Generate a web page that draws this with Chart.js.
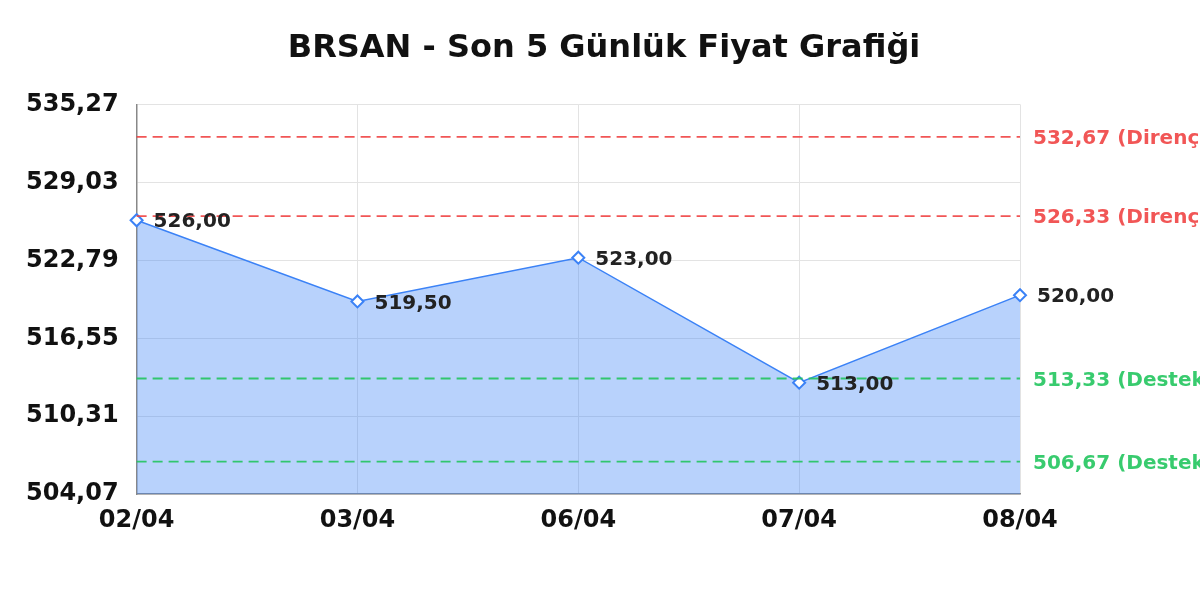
<!DOCTYPE html>
<html>
<head>
<meta charset="utf-8">
<script src="https://cdn.jsdelivr.net/npm/chart.js@4"></script>
<style>
  html, body { margin: 0; padding: 0; background: #fff; }
  #wrap { width: 1200px; height: 600px; }
</style>
</head>
<body>
<div id="wrap"><canvas id="chart"></canvas></div>
<script>
  const labels = ['02/04', '03/04', '06/04', '07/04', '08/04'];
  const prices = [526.00, 519.50, 523.00, 513.00, 520.00];
  const yTicks = [504.07, 510.31, 516.55, 522.79, 529.03, 535.27];
  const resistance = [532.67, 526.33];
  const support = [513.33, 506.67];

  const fmt = v => v.toFixed(2).replace('.', ',');
  const FONT = "'DejaVu Sans', sans-serif";

  // dashed support / resistance lines with labels right of the plot
  const levelLinesPlugin = {
    id: 'levelLines',
    afterDatasetsDraw(chart) {
      const { ctx, chartArea, scales } = chart;
      const levels = resistance.map(v => ({ v, color: 'rgba(239, 68, 68, 0.9)', text: ' (Direnç)' }))
        .concat(support.map(v => ({ v, color: 'rgba(34, 197, 94, 0.9)', text: ' (Destek)' })));
      ctx.save();
      levels.forEach(l => {
        const y = scales.y.getPixelForValue(l.v);
        ctx.strokeStyle = l.color;
        ctx.lineWidth = 1.8;
        ctx.setLineDash([10, 6]);
        ctx.beginPath();
        ctx.moveTo(chartArea.left, y);
        ctx.lineTo(chartArea.right, y);
        ctx.stroke();
        ctx.setLineDash([]);
        ctx.fillStyle = l.color;
        ctx.font = 'bold 20px ' + FONT;
        ctx.textAlign = 'left';
        ctx.textBaseline = 'middle';
        ctx.fillText(fmt(l.v) + l.text, chartArea.right + 13, y + 2);
      });
      ctx.restore();
    },
    afterDraw(chart) {
      const { ctx } = chart;
      const meta = chart.getDatasetMeta(0);
      ctx.save();
      ctx.fillStyle = '#222';
      ctx.font = 'bold 20px ' + FONT;
      ctx.textAlign = 'left';
      ctx.textBaseline = 'middle';
      meta.data.forEach((pt, i) => {
        ctx.fillText(fmt(prices[i]), pt.x + 17, pt.y + 2);
      });
      ctx.restore();
    }
  };

  new Chart(document.getElementById('chart'), {
    type: 'line',
    plugins: [levelLinesPlugin],
    data: {
      labels: labels,
      datasets: [{
        label: 'BRSAN',
        data: prices,
        fill: 'start',
        tension: 0,
        borderColor: '#3b82f6',
        backgroundColor: 'rgba(59, 130, 246, 0.36)',
        borderWidth: 1.5,
        pointStyle: 'rectRot',
        pointRadius: 6,
        pointBorderWidth: 2,
        pointBackgroundColor: '#fff',
        pointBorderColor: '#3b82f6'
      }]
    },
    options: {
      responsive: true,
      maintainAspectRatio: false,
      animation: false,
      layout: { padding: { left: 8, top: 0, right: 0, bottom: 53 } },
      plugins: {
        legend: { display: false },
        tooltip: { enabled: false },
        title: {
          display: true,
          text: 'BRSAN - Son 5 Günlük Fiyat Grafiği',
          color: '#111',
          font: { family: FONT, size: 32, weight: 'bold' },
          padding: { top: 29, bottom: 37 }
        }
      },
      scales: {
        x: {
          offset: false,
          grid: { color: '#e3e3e3', drawTicks: false },
          border: { color: '#888', width: 1.5 },
          ticks: { color: '#111', padding: 12, font: { family: FONT, size: 24, weight: 'bold' } }
        },
        y: {
          min: 504.07,
          max: 535.27,
          afterBuildTicks: axis => { axis.ticks = yTicks.map(v => ({ value: v })); },
          grid: { color: '#e3e3e3', drawTicks: false },
          border: { color: '#888', width: 1.5 },
          ticks: {
            color: '#111',
            padding: 18,
            font: { family: FONT, size: 24, weight: 'bold' },
            callback: v => fmt(v)
          }
        },
        y2: {
          position: 'right',
          display: true,
          grid: { display: false },
          border: { display: false },
          ticks: { display: false },
          afterFit: axis => { axis.width = 180; }
        }
      }
    }
  });
</script>
</body>
</html>
